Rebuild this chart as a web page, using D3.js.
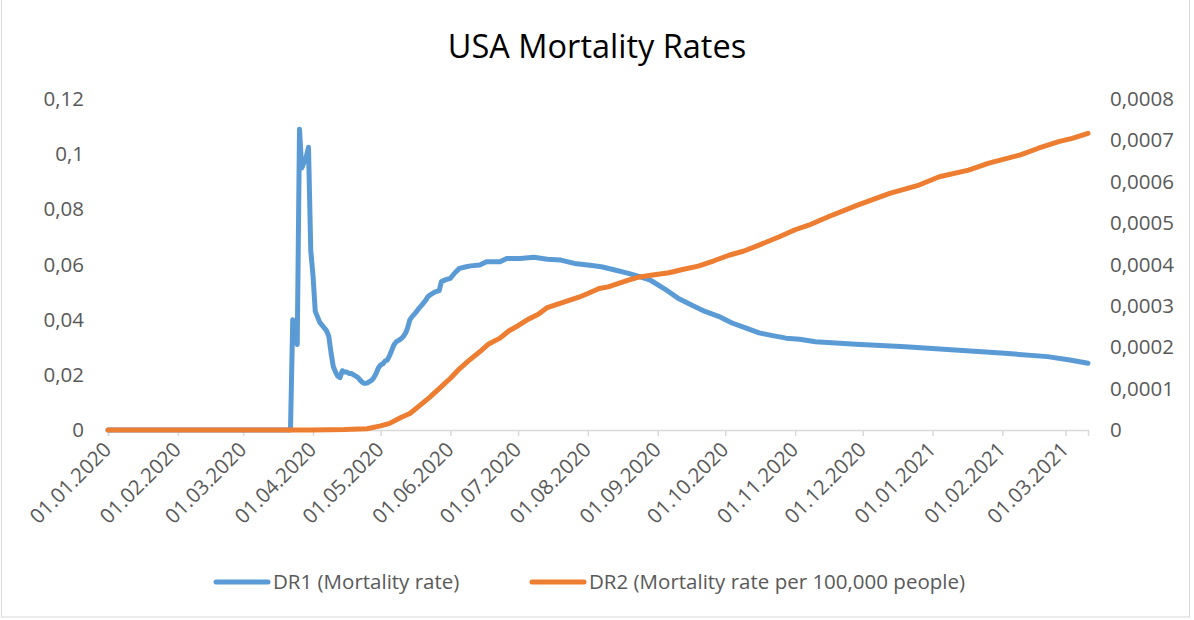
<!DOCTYPE html>
<html>
<head>
<meta charset="utf-8">
<script src="https://cdn.jsdelivr.net/npm/d3@7"></script>
<style>
  body { margin: 0; background: #fff; }
  text { font-family: "Open Sans", "Liberation Sans", sans-serif; }
</style>
</head>
<body>
<div class="chart"></div>
<script>
// Values

var titleText = "USA Mortality Rates";
var seriesNames = ["DR1 (Mortality rate)", "DR2 (Mortality rate per 100,000 people)"];

var leftTicks = [0, 0.02, 0.04, 0.06, 0.08, 0.1, 0.12];
var rightTicks = [0, 0.0001, 0.0002, 0.0003, 0.0004, 0.0005, 0.0006, 0.0007, 0.0008];

// DR1 (left axis)
var dr1Dates = [
  "2020-01-01", "2020-03-22", "2020-03-23", "2020-03-24", "2020-03-25", "2020-03-26",
  "2020-03-27", "2020-03-28", "2020-03-29", "2020-03-30", "2020-03-31", "2020-04-01",
  "2020-04-02", "2020-04-03", "2020-04-04", "2020-04-05", "2020-04-06", "2020-04-07",
  "2020-04-08", "2020-04-09", "2020-04-10", "2020-04-11", "2020-04-12", "2020-04-13",
  "2020-04-14", "2020-04-15", "2020-04-16", "2020-04-17", "2020-04-18", "2020-04-19",
  "2020-04-20", "2020-04-21", "2020-04-22", "2020-04-23", "2020-04-24", "2020-04-25",
  "2020-04-26", "2020-04-27", "2020-04-28", "2020-04-29", "2020-04-30", "2020-05-01",
  "2020-05-02", "2020-05-03", "2020-05-04", "2020-05-05", "2020-05-06", "2020-05-07",
  "2020-05-08", "2020-05-09", "2020-05-10", "2020-05-11", "2020-05-12", "2020-05-13",
  "2020-05-14", "2020-05-15", "2020-05-16", "2020-05-17", "2020-05-18", "2020-05-19",
  "2020-05-20", "2020-05-21", "2020-05-22", "2020-05-23", "2020-05-25", "2020-05-27",
  "2020-05-28", "2020-05-30", "2020-06-01", "2020-06-03", "2020-06-05", "2020-06-08",
  "2020-06-10", "2020-06-14", "2020-06-17", "2020-06-23", "2020-06-26", "2020-07-02",
  "2020-07-08", "2020-07-14", "2020-07-20", "2020-07-26", "2020-08-01", "2020-08-07",
  "2020-08-13", "2020-08-19", "2020-08-24", "2020-08-29", "2020-09-04", "2020-09-10",
  "2020-09-16", "2020-09-22", "2020-09-28", "2020-10-04", "2020-10-10", "2020-10-16",
  "2020-10-22", "2020-10-28", "2020-11-03", "2020-11-10", "2020-11-28", "2020-12-20",
  "2021-01-11", "2021-02-02", "2021-02-21", "2021-03-03", "2021-03-11"
];
var dr1Values = [
  0, 0, 0.040, 0.038, 0.031, 0.109,
  0.095, 0.097, 0.099, 0.1025, 0.065, 0.056,
  0.043, 0.041, 0.039, 0.038, 0.037, 0.036,
  0.034, 0.028, 0.023, 0.021, 0.0195, 0.019,
  0.0215, 0.021, 0.021, 0.0205, 0.0205, 0.020,
  0.0195, 0.019, 0.018, 0.0172, 0.0169, 0.017,
  0.0175, 0.018, 0.019, 0.0205, 0.0225, 0.0236,
  0.024, 0.025, 0.0254, 0.027, 0.029, 0.031,
  0.032, 0.0325, 0.033, 0.0338, 0.035, 0.037,
  0.040, 0.0411, 0.042, 0.043, 0.0441, 0.045,
  0.046, 0.047, 0.0483, 0.049, 0.050, 0.0505,
  0.0538, 0.0545, 0.055, 0.057, 0.0586, 0.0592,
  0.0595, 0.0598, 0.061, 0.061, 0.0622, 0.0622,
  0.0626, 0.0619, 0.0616, 0.0604, 0.0598, 0.0592,
  0.058, 0.0568, 0.0556, 0.0542, 0.0512, 0.0478,
  0.0453, 0.043, 0.0412, 0.0388, 0.037, 0.0352,
  0.0342, 0.0333, 0.0329, 0.032, 0.0311, 0.0302,
  0.029, 0.0278, 0.0266, 0.0254, 0.0242
];

// DR2 (right axis)
var dr2Dates = [
  "2020-01-01", "2020-04-01", "2020-04-15", "2020-04-25", "2020-05-01", "2020-05-05",
  "2020-05-10", "2020-05-14", "2020-05-19", "2020-05-23", "2020-05-27", "2020-06-01",
  "2020-06-05", "2020-06-09", "2020-06-14", "2020-06-18", "2020-06-23", "2020-06-27",
  "2020-07-01", "2020-07-06", "2020-07-10", "2020-07-14", "2020-07-19", "2020-07-23",
  "2020-07-28", "2020-08-01", "2020-08-06", "2020-08-10", "2020-08-15", "2020-08-19",
  "2020-08-24", "2020-08-29", "2020-09-06", "2020-09-12", "2020-09-19", "2020-09-26",
  "2020-10-03", "2020-10-09", "2020-10-16", "2020-10-25", "2020-11-01", "2020-11-07",
  "2020-11-16", "2020-11-29", "2020-12-13", "2020-12-26", "2021-01-04", "2021-01-17",
  "2021-01-26", "2021-02-09", "2021-02-17", "2021-02-26", "2021-03-04", "2021-03-11"
];
var dr2Values = [
  0, 0, 0.000001, 0.000003, 0.000010, 0.000016,
  0.00003, 0.00004, 0.000062, 0.00008, 0.0001, 0.000125,
  0.000148, 0.000167, 0.000189, 0.000208, 0.000222, 0.00024,
  0.000252, 0.000269, 0.00028, 0.000296, 0.000305, 0.000312,
  0.000321, 0.00033, 0.000342, 0.000346, 0.000355, 0.000362,
  0.00037, 0.000374, 0.00038, 0.000388, 0.000396, 0.000409,
  0.000423, 0.000432, 0.000447, 0.000467, 0.000484, 0.000495,
  0.000516, 0.000544, 0.000572, 0.000592, 0.000612, 0.000628,
  0.000645, 0.000665, 0.000681, 0.000697, 0.000705, 0.000717
];

//__________________________________________________________________________________
var svgWidth = 1194;
var svgHeight = 620;

var margin = { top: 99, right: 106, bottom: 190, left: 108 };
var width = svgWidth - margin.left - margin.right;
var height = svgHeight - margin.top - margin.bottom;

var parseDate = d3.timeParse("%Y-%m-%d");
var dr1 = dr1Dates.map((d, i) => ({ date: parseDate(d), value: dr1Values[i] }));
var dr2 = dr2Dates.map((d, i) => ({ date: parseDate(d), value: dr2Values[i] }));

var blue = "#5B9BD5";
var orange = "#ED7D31";
var textColor = "#595959";

var svg = d3.select(".chart")
  .append("svg")
  .attr("width", svgWidth)
  .attr("height", svgHeight);

// chart border
svg.append("rect")
  .attr("x", 1.5)
  .attr("y", -2)
  .attr("width", 1188)
  .attr("height", 619)
  .attr("fill", "none")
  .attr("stroke", "#d9d9d9")
  .attr("stroke-width", 1);

var chartGroup = svg.append("g")
  .attr("transform", `translate(${margin.left}, ${margin.top})`);

// scales
var xTimeScale = d3.scaleTime()
  .domain([parseDate("2020-01-01"), parseDate("2021-03-11")])
  .range([0, width]);

var yLeftScale = d3.scaleLinear()
  .domain([0, 0.12])
  .range([height, 0]);

var yRightScale = d3.scaleLinear()
  .domain([0, 0.0008])
  .range([height, 0]);

var commaFormat = d => d === 0 ? "0" : String(+d.toFixed(6)).replace(".", ",");

// x axis
var monthTicks = d3.timeMonth.range(parseDate("2020-01-01"), parseDate("2021-03-02"));
var bottomAxis = d3.axisBottom(xTimeScale)
  .tickValues(monthTicks)
  .tickSize(6)
  .tickFormat(d3.timeFormat("%d.%m.%Y"));

var xAxis = chartGroup.append("g")
  .attr("transform", `translate(0, ${height})`)
  .call(bottomAxis);

xAxis.select(".domain").attr("stroke", "#d9d9d9").attr("stroke-width", 1.5);
xAxis.selectAll(".tick line").attr("stroke", "#d9d9d9").attr("stroke-width", 1.5);
xAxis.selectAll(".tick text")
  .attr("fill", textColor)
  .style("font-size", "20.5px")
  .attr("text-anchor", "end")
  .attr("dy", null)
  .attr("y", 0)
  .attr("transform", "translate(4, 21) rotate(-45)");

// left axis
var leftAxis = d3.axisLeft(yLeftScale)
  .tickValues(leftTicks)
  .tickSize(0)
  .tickPadding(24)
  .tickFormat(commaFormat);

var yAxisLeft = chartGroup.append("g").call(leftAxis);
yAxisLeft.select(".domain").remove();
yAxisLeft.selectAll(".tick text")
  .attr("fill", textColor)
  .style("font-size", "20.5px");

// right axis
var rightAxis = d3.axisRight(yRightScale)
  .tickValues(rightTicks)
  .tickSize(0)
  .tickPadding(22)
  .tickFormat(commaFormat);

var yAxisRight = chartGroup.append("g")
  .attr("transform", `translate(${width}, 0)`)
  .call(rightAxis);
yAxisRight.select(".domain").remove();
yAxisRight.selectAll(".tick text")
  .attr("fill", textColor)
  .style("font-size", "20.5px");

// lines
var dr1Line = d3.line()
  .x(d => xTimeScale(d.date))
  .y(d => yLeftScale(d.value));

var dr2Line = d3.line()
  .x(d => xTimeScale(d.date))
  .y(d => yRightScale(d.value));

chartGroup.append("path")
  .datum(dr1)
  .attr("d", dr1Line)
  .attr("fill", "none")
  .attr("stroke", blue)
  .attr("stroke-width", 5)
  .attr("stroke-linejoin", "round")
  .attr("stroke-linecap", "round");

chartGroup.append("path")
  .datum(dr2)
  .attr("d", dr2Line)
  .attr("fill", "none")
  .attr("stroke", orange)
  .attr("stroke-width", 5)
  .attr("stroke-linejoin", "round")
  .attr("stroke-linecap", "round");

// title
svg.append("text")
  .attr("x", 597)
  .attr("y", 58)
  .attr("text-anchor", "middle")
  .attr("fill", "#000")
  .style("font-size", "32.5px")
  .text(titleText);

// legend
var legendItems = [
  { name: seriesNames[0], color: blue, x: 216 },
  { name: seriesNames[1], color: orange, x: 532 }
];

var legend = svg.append("g").attr("transform", "translate(0, 582)");

legend.selectAll("line")
  .data(legendItems)
  .enter()
  .append("line")
  .attr("x1", d => d.x)
  .attr("x2", d => d.x + 52)
  .attr("y1", 0)
  .attr("y2", 0)
  .attr("stroke", d => d.color)
  .attr("stroke-width", 5)
  .attr("stroke-linecap", "round");

legend.selectAll("text")
  .data(legendItems)
  .enter()
  .append("text")
  .attr("x", d => d.x + 57)
  .attr("y", 7)
  .attr("fill", textColor)
  .style("font-size", "20.5px")
  .text(d => d.name);
</script>
</body>
</html>
